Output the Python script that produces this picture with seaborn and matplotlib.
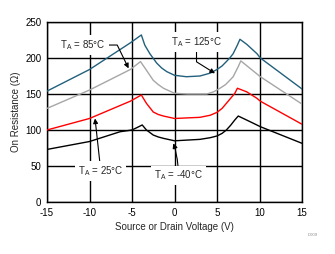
import matplotlib
matplotlib.use("Agg")
import matplotlib.pyplot as plt
import seaborn as sns
import pandas as pd

# ---- data ----
x125 = [-15, -10, -5.2, -3.9, -3.5, -2.9, -2.1, -1.5, -0.9, 0, 1.4, 3.0, 4.2, 5.0, 5.6, 6.1, 6.5, 6.9, 7.4, 7.7, 8.5, 9.7, 10.1, 15]
y125 = [154, 184, 221, 232, 218, 206, 193, 186, 181, 176, 174, 175, 179, 184, 189, 195, 200, 206, 218, 226, 219, 206, 200, 157]

x85 = [-15, -10, -5.2, -4.0, -3.3, -2.5, -1.9, -1.3, 0, 1.5, 3.8, 4.6, 5.35, 6.0, 6.5, 6.9, 7.5, 7.8, 10.1, 15]
y85 = [130, 155.5, 184, 195, 183, 169, 163, 158, 151, 150, 150, 153, 158, 163, 169, 174, 188, 196, 174, 136]

x25 = [-15, -10, -5.2, -3.9, -3.3, -2.5, -1.9, -1.3, 0, 3.0, 4.2, 5.0, 5.6, 6.1, 6.6, 7.1, 7.4, 8.5, 9.7, 10.1, 15]
y25 = [100, 116, 140, 148.6, 137, 125, 121.5, 119.4, 116, 117.6, 120.5, 124.5, 130, 137, 144, 151, 158, 153, 144, 140, 108]

xm40 = [-15, -10, -6.4, -5.0, -4.3, -3.8, -3.3, -2.5, -1.9, -1.3, 0, 3.0, 4.2, 5.0, 5.6, 6.1, 6.6, 7.1, 7.5, 8.9, 10.1, 15]
ym40 = [73, 84, 97.6, 100, 104, 107, 100, 93, 90.3, 88.4, 85, 87, 89.3, 91.7, 95.3, 100, 106.5, 114, 119.4, 111.5, 104.6, 81.5]

xticks = [-15, -10, -5, 0, 5, 10, 15]
yticks = [0, 50, 100, 150, 200, 250]

sns.set_style("white")
plt.rcParams['font.family'] = ['Liberation Sans', 'DejaVu Sans']
plt.rcParams['mathtext.default'] = 'regular'
plt.rcParams['axes.unicode_minus'] = False

fig = plt.figure(figsize=(3.35, 2.54), dpi=100)
ax = fig.add_axes([47/335, 52/254, 255/335, 180/254])

series = [
    (x125, y125, "#22607c"),
    (x85, y85, "#a6a6a6"),
    (x25, y25, "#ff0000"),
    (xm40, ym40, "#000000"),
]
for xs, ys, c in series:
    df = pd.DataFrame({"x": xs, "y": ys})
    sns.lineplot(data=df, x="x", y="y", ax=ax, color=c, lw=1.0, sort=False, zorder=3)

ax.set_xlim(-15, 15)
ax.set_ylim(0, 250)
ax.set_xticks(xticks)
ax.set_yticks(yticks)
ax.grid(True, color="black", lw=1.0)
ax.set_axisbelow(True)
for s in ax.spines.values():
    s.set_color("black")
    s.set_linewidth(1.0)
ax.tick_params(axis="both", length=0, labelsize=7, colors="black", pad=4)
ax.set_xlabel("Source or Drain Voltage (V)", fontsize=7, labelpad=3)
ax.set_ylabel("On Resistance (Ω)", fontsize=7, labelpad=3)

bbox = dict(boxstyle="square,pad=0.3", fc="white", ec="none")
ap = dict(arrowstyle="-|>", color="black", lw=0.8, mutation_scale=7, shrinkA=0, shrinkB=0)

ax.annotate("T$_A$ = 85°C", xy=(-5.4, 185.6), xytext=(-10.76, 218), fontsize=7,
            ha="center", va="center", bbox=bbox, zorder=5,
            arrowprops=dict(ap, connectionstyle="angle,angleA=0,angleB=116,rad=0"))
ax.annotate("T$_A$ = 125°C", xy=(4.76, 178.7), xytext=(2.59, 222), fontsize=7,
            ha="center", va="center", bbox=bbox, zorder=5,
            arrowprops=dict(ap, connectionstyle="angle,angleA=-90,angleB=148,rad=0"))
ax.annotate("T$_A$ = 25°C", xy=(-9.35, 116), xytext=(-8.67, 43), fontsize=7,
            ha="center", va="center", bbox=bbox, zorder=5,
            arrowprops=dict(ap, connectionstyle="arc3,rad=0"))
ax.annotate("T$_A$ = -40°C", xy=(-0.14, 81.5), xytext=(0.45, 37), fontsize=7,
            ha="center", va="center", bbox=bbox, zorder=5,
            arrowprops=dict(ap, connectionstyle="angle3,angleA=90,angleB=110"))

fig.text(313/335, 1 - 235/254, "D009", fontsize=3, color="#888888", ha="center", va="center")

fig.savefig("out.png", dpi=100)
